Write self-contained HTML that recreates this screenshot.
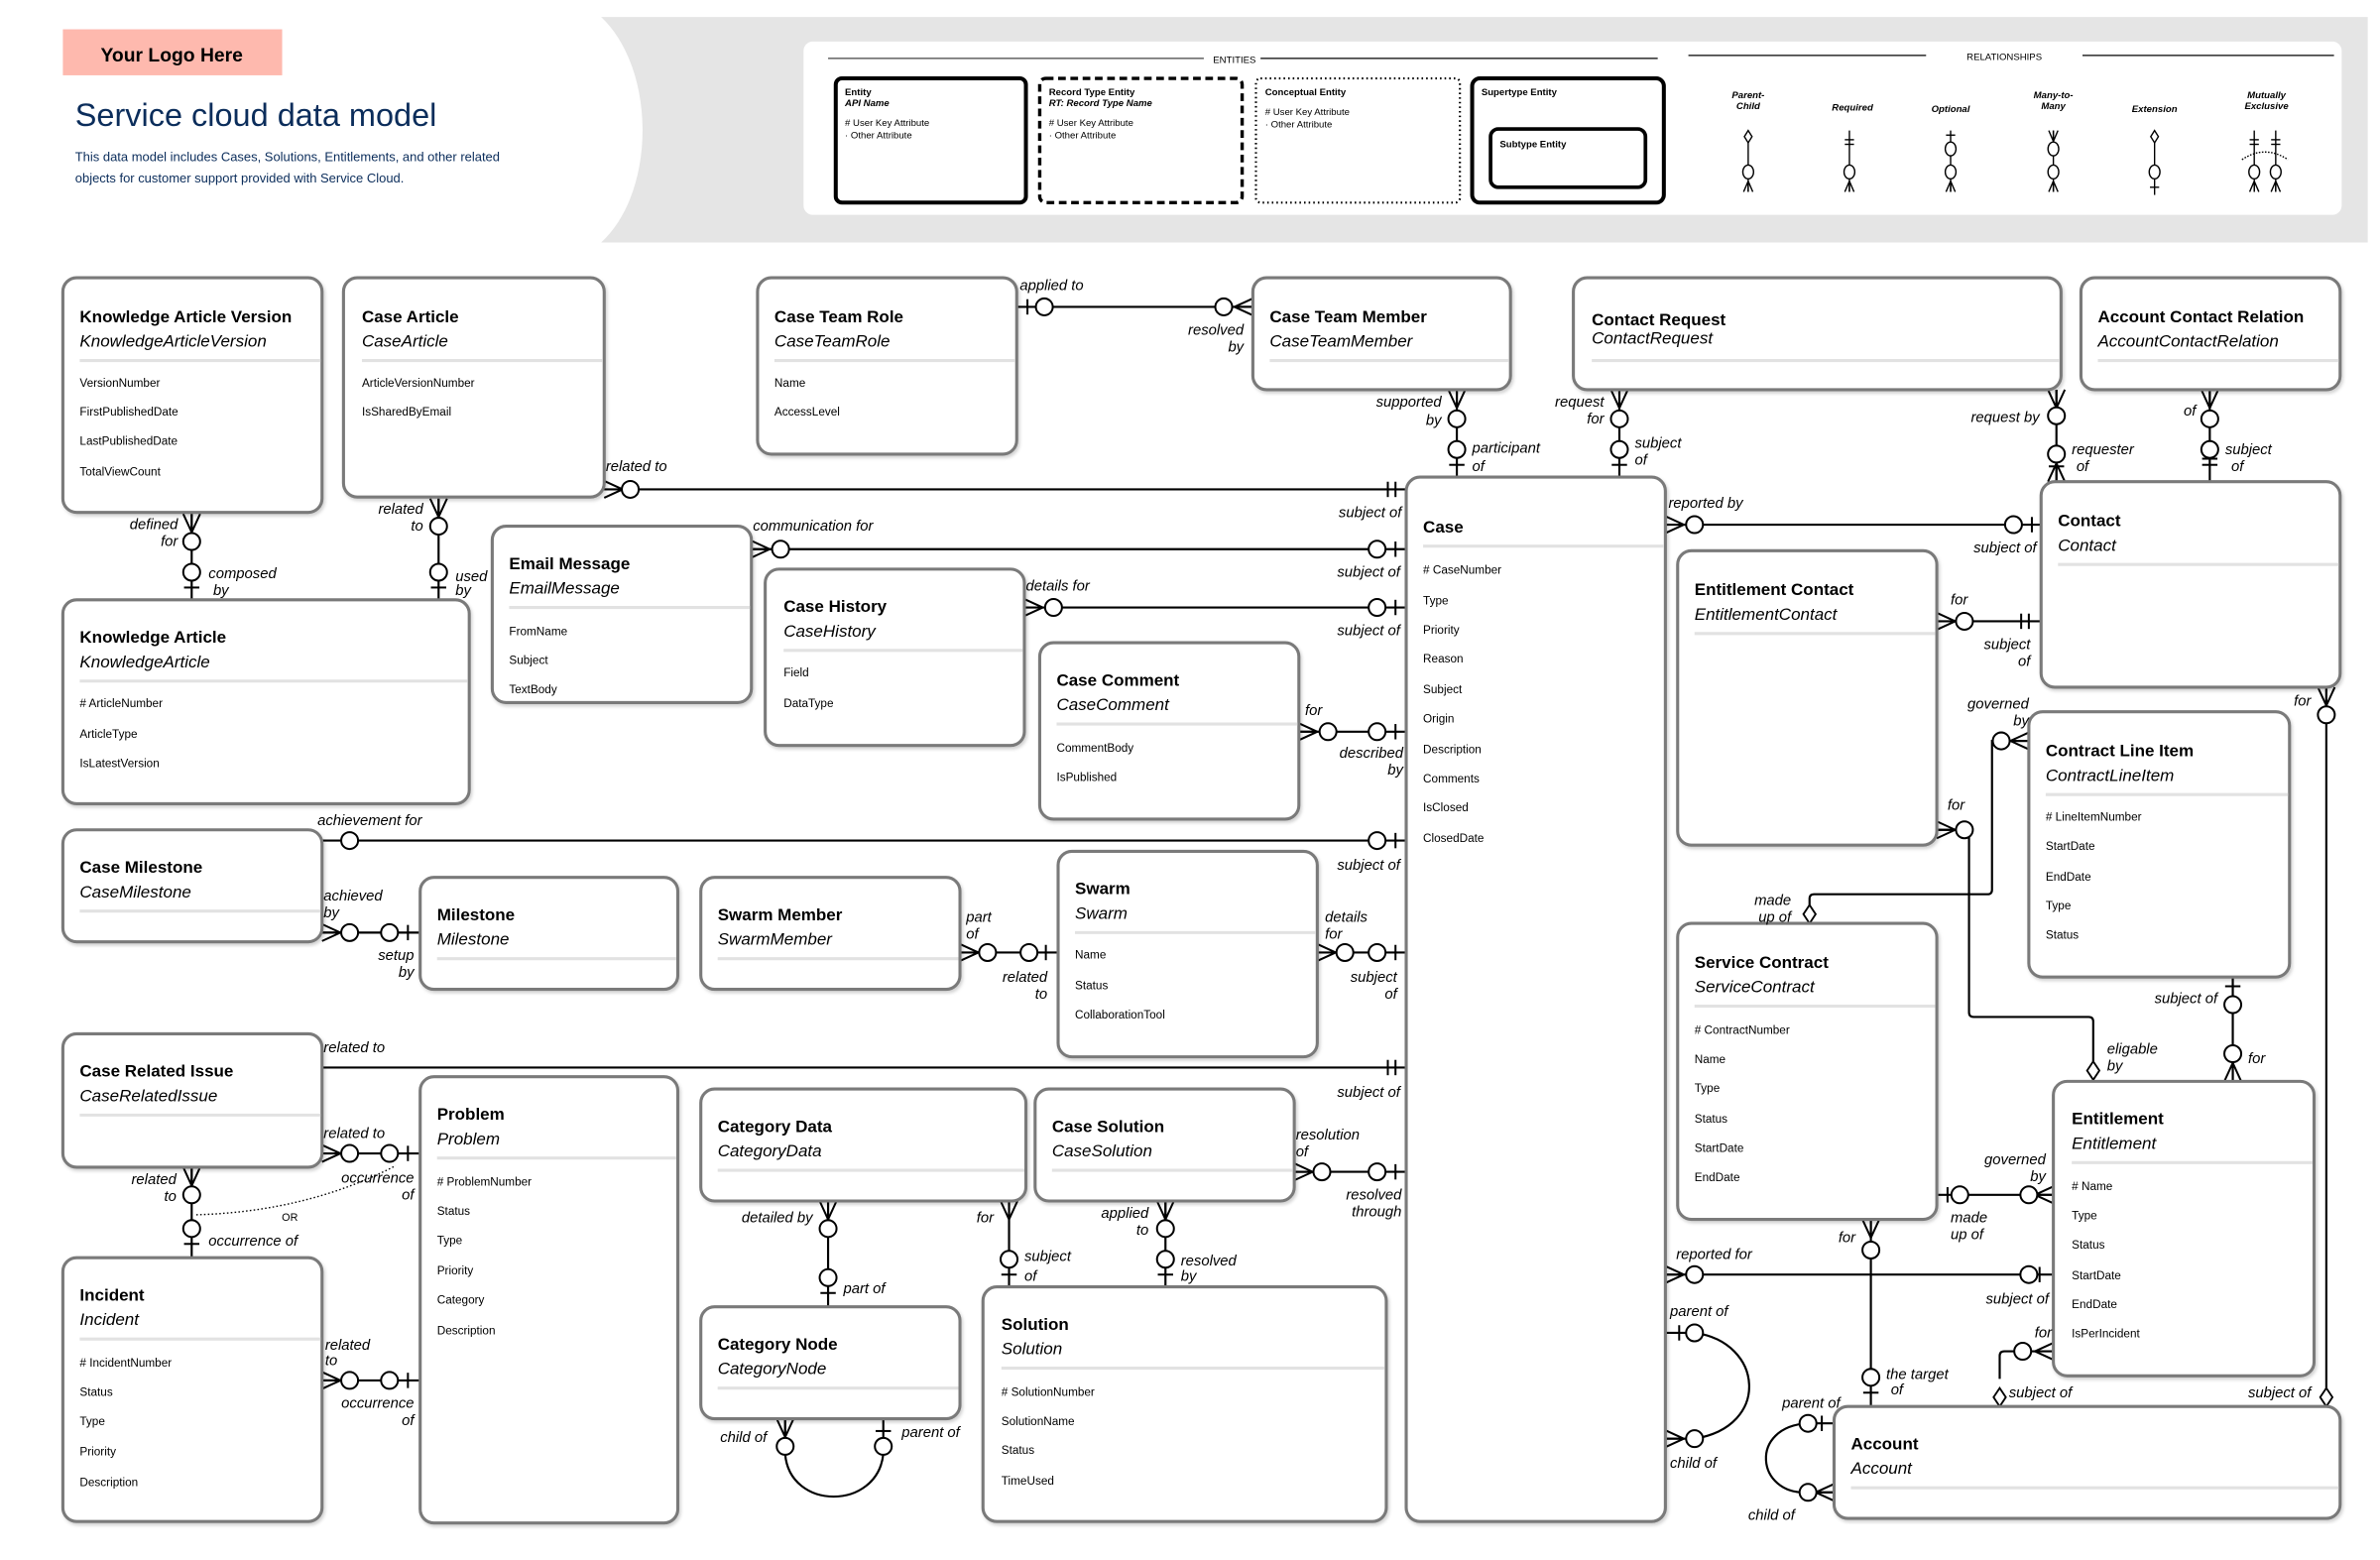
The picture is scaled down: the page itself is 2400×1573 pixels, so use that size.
<!DOCTYPE html>
<html><head><meta charset="utf-8"><style>
html,body{margin:0;padding:0;background:#fff;}
svg{display:block;}
text{font-family:"Liberation Sans",sans-serif;fill:#000;}
.t{font-size:11px;font-weight:bold;}
.a{font-size:11px;font-style:italic;}
.f{font-size:7.6px;}
.l{font-size:9.6px;font-style:italic;}
.e{fill:#fff;stroke:#7a7a7a;stroke-width:2;filter:url(#sh);}
.s{stroke:#e2e2e2;stroke-width:2;}
.c{stroke:#000;stroke-width:1.4;fill:none;}
.o{fill:#fff;stroke:#000;stroke-width:1.3;}
.lg{font-size:6.2px;}
</style></head><body>
<svg width="2400" height="1573" viewBox="0 0 1552 1017" xmlns="http://www.w3.org/2000/svg">
<defs>
<filter id="sh" x="-5%" y="-5%" width="110%" height="110%"><feDropShadow dx="1" dy="1.5" stdDeviation="1" flood-color="#000" flood-opacity="0.18"/></filter>
<path id="cf" d="M12,0 L0,-5.5 M12,0 L0,0 M12,0 L0,5.5" stroke="#000" stroke-width="1.3" fill="none"/>
<path id="dm" d="M0,0 L4,-6 L0,-12 L-4,-6 Z" fill="#fff" stroke="#000" stroke-width="1.2"/>
</defs>

<!-- Header -->
<rect x="41" y="19" width="143" height="30" fill="#feb9ae"/>
<text x="112" y="40" text-anchor="middle" style="font-size:12.5px;font-weight:bold">Your Logo Here</text>
<text x="49" y="82" style="font-size:21px;fill:#0b2d5b">Service cloud data model</text>
<text x="49" y="105" style="font-size:8.4px;fill:#0b2d5b">This data model includes Cases, Solutions, Entitlements, and other related</text>
<text x="49" y="119" style="font-size:8.4px;fill:#0b2d5b">objects for customer support provided with Service Cloud.</text>

<path d="M392,11 C428,45 428,125 392,158 L1544,158 L1544,11 Z" fill="#e5e5e5"/>
<rect x="524" y="27" width="1003" height="113" rx="6" fill="#fff"/>
<line x1="540" y1="38" x2="785" y2="38" stroke="#444" stroke-width="0.8"/>
<line x1="822" y1="38" x2="1081" y2="38" stroke="#000" stroke-width="0.8"/>
<text x="805" y="41" text-anchor="middle" class="lg">ENTITIES</text>
<line x1="1101" y1="36" x2="1256" y2="36" stroke="#000" stroke-width="0.8"/>
<line x1="1358" y1="36" x2="1522" y2="36" stroke="#000" stroke-width="0.8"/>
<text x="1307" y="39" text-anchor="middle" class="lg">RELATIONSHIPS</text>

<rect x="545" y="51" width="124" height="81" rx="4" fill="none" stroke="#000" stroke-width="2.6"/>
<text x="551" y="62" class="lg" style="font-weight:bold">Entity</text>
<text x="551" y="69" class="lg" style="font-weight:bold;font-style:italic">API Name</text>
<text x="551" y="82" class="lg"># User Key Attribute</text>
<text x="551" y="90" class="lg">· Other Attribute</text>
<rect x="678" y="51" width="132" height="81" rx="4" fill="none" stroke="#000" stroke-width="2.2" stroke-dasharray="5,3"/>
<text x="684" y="62" class="lg" style="font-weight:bold">Record Type Entity</text>
<text x="684" y="69" class="lg" style="font-weight:bold;font-style:italic">RT: Record Type Name</text>
<text x="684" y="82" class="lg"># User Key Attribute</text>
<text x="684" y="90" class="lg">· Other Attribute</text>
<rect x="819" y="51" width="133" height="81" rx="3" fill="none" stroke="#000" stroke-width="1.4" stroke-dasharray="1,2"/>
<text x="825" y="62" class="lg" style="font-weight:bold">Conceptual Entity</text>
<text x="825" y="75" class="lg"># User Key Attribute</text>
<text x="825" y="83" class="lg">· Other Attribute</text>
<rect x="960" y="51" width="125" height="81" rx="5" fill="none" stroke="#000" stroke-width="2.6"/>
<text x="966" y="62" class="lg" style="font-weight:bold">Supertype Entity</text>
<rect x="972" y="84" width="101" height="38" rx="5" fill="none" stroke="#000" stroke-width="2.4"/>
<text x="978" y="96" class="lg" style="font-weight:bold">Subtype Entity</text>

<g class="lg" style="font-style:italic;font-weight:bold" text-anchor="middle">
<text x="1140" y="64">Parent-</text><text x="1140" y="71">Child</text>
<text x="1208" y="72">Required</text>
<text x="1272" y="73">Optional</text>
<text x="1339" y="64">Many-to-</text><text x="1339" y="71">Many</text>
<text x="1405" y="73">Extension</text>
<text x="1478" y="64">Mutually</text><text x="1478" y="71">Exclusive</text>
</g>
<g stroke="#000" stroke-width="0.9" fill="#fff">
<line x1="1140" y1="85" x2="1140" y2="125"/><path d="M1140,85 l2.5,4 l-2.5,4 l-2.5,-4z"/><ellipse cx="1140" cy="112" rx="3.5" ry="4.5"/><path d="M1140,118 l-3,7 M1140,118 l0,7 M1140,118 l3,7" fill="none"/>
<line x1="1206" y1="85" x2="1206" y2="125"/><line x1="1203" y1="91" x2="1209" y2="91"/><line x1="1203" y1="94" x2="1209" y2="94"/><ellipse cx="1206" cy="112" rx="3.5" ry="4.5"/><path d="M1206,118 l-3,7 M1206,118 l0,7 M1206,118 l3,7" fill="none"/>
<line x1="1272" y1="85" x2="1272" y2="125"/><line x1="1269" y1="88" x2="1275" y2="88"/><ellipse cx="1272" cy="97" rx="3.5" ry="4.5"/><ellipse cx="1272" cy="112" rx="3.5" ry="4.5"/><path d="M1272,118 l-3,7 M1272,118 l0,7 M1272,118 l3,7" fill="none"/>
<line x1="1339" y1="85" x2="1339" y2="125"/><path d="M1336,85 l3,7 l3,-7 M1339,85 l0,7" fill="none"/><ellipse cx="1339" cy="97" rx="3.5" ry="4.5"/><ellipse cx="1339" cy="112" rx="3.5" ry="4.5"/><path d="M1339,118 l-3,7 M1339,118 l0,7 M1339,118 l3,7" fill="none"/>
<line x1="1405" y1="85" x2="1405" y2="127"/><path d="M1405,85 l2.5,4 l-2.5,4 l-2.5,-4z"/><ellipse cx="1405" cy="112" rx="3.5" ry="4.5"/><line x1="1402" y1="122" x2="1408" y2="122"/>
<line x1="1470" y1="85" x2="1470" y2="125"/><line x1="1484" y1="85" x2="1484" y2="125"/>
<line x1="1467" y1="91" x2="1473" y2="91"/><line x1="1467" y1="94" x2="1473" y2="94"/><line x1="1481" y1="91" x2="1487" y2="91"/><line x1="1481" y1="94" x2="1487" y2="94"/>
<path d="M1462,104 Q1477,94 1492,104" fill="none" stroke-dasharray="1,1"/>
<ellipse cx="1470" cy="112" rx="3.5" ry="4.5"/><ellipse cx="1484" cy="112" rx="3.5" ry="4.5"/>
<path d="M1470,118 l-3,7 M1470,118 l0,7 M1470,118 l3,7 M1484,118 l-3,7 M1484,118 l0,7 M1484,118 l3,7" fill="none"/>
</g>

<!-- CONNECTORS -->
<g class="c">
<line x1="125" y1="335" x2="125" y2="391"/>
<line x1="286" y1="325" x2="286" y2="391"/>
<line x1="394" y1="319" x2="917" y2="319"/>
<line x1="663" y1="200" x2="817" y2="200"/>
<line x1="950" y1="254" x2="950" y2="311"/>
<line x1="1056" y1="254" x2="1056" y2="311"/>
<line x1="490" y1="358" x2="917" y2="358"/>
<line x1="668" y1="396" x2="917" y2="396"/>
<line x1="847" y1="477" x2="917" y2="477"/>
<line x1="210" y1="548" x2="917" y2="548"/>
<line x1="210" y1="608" x2="274" y2="608"/>
<line x1="626" y1="621" x2="690" y2="621"/>
<line x1="859" y1="621" x2="917" y2="621"/>
<line x1="210" y1="696" x2="917" y2="696"/>
<line x1="210" y1="752" x2="274" y2="752"/>
<line x1="125" y1="761" x2="125" y2="820"/>
<line x1="210" y1="900" x2="274" y2="900"/>
<line x1="540" y1="783" x2="540" y2="852"/>
<line x1="658" y1="783" x2="658" y2="839"/>
<line x1="760" y1="783" x2="760" y2="839"/>
<line x1="844" y1="764" x2="917" y2="764"/>
<line x1="1086" y1="342" x2="1331" y2="342"/>
<line x1="1441" y1="254" x2="1441" y2="314"/>
<line x1="1341" y1="254" x2="1341" y2="314"/>
<line x1="1263" y1="405" x2="1331" y2="405"/>
<path d="M1323,483 L1299,483 L1299,580 Q1299,583 1296,583 L1183,583 Q1180,583 1180,586 L1180,590"/>
<path d="M1263,541 L1281,541 Q1284,541 1284,544 L1284,660 Q1284,663 1287,663 L1362,663 Q1365,663 1365,666 L1365,692"/>
<line x1="1456" y1="637" x2="1456" y2="705"/>
<line x1="1517" y1="448" x2="1517" y2="905"/>
<line x1="1263" y1="779" x2="1339" y2="779"/>
<line x1="1220" y1="795" x2="1220" y2="917"/>
<line x1="1086" y1="831" x2="1339" y2="831"/>
<path d="M1105,869 C1150,875 1155,930 1105,938"/>
<line x1="1086" y1="869" x2="1100" y2="869"/>
<line x1="1086" y1="938" x2="1100" y2="938"/>
<path d="M1179,928 C1140,930 1145,975 1179,973"/>
<line x1="1184" y1="928" x2="1196" y2="928"/>
<line x1="1184" y1="973" x2="1196" y2="973"/>
<path d="M1339,881 L1307,881 Q1304,881 1304,884 L1304,899"/>
<path d="M512,948 C515,985 572,985 576,948"/>
<line x1="512" y1="925" x2="512" y2="938"/>
<line x1="576" y1="925" x2="576" y2="938"/>
</g>
<path d="M128,792 Q200,790 258,760" fill="none" stroke="#000" stroke-width="0.9" stroke-dasharray="1,1.5"/>

<!-- crow feet -->
<use href="#cf" transform="translate(125,335) rotate(90)"/>
<use href="#cf" transform="translate(286,325) rotate(90)"/>
<use href="#cf" transform="translate(394,319)"/>
<use href="#cf" transform="translate(817,200) rotate(180)"/>
<use href="#cf" transform="translate(950,254) rotate(90)"/>
<use href="#cf" transform="translate(1056,254) rotate(90)"/>
<use href="#cf" transform="translate(490,358)"/>
<use href="#cf" transform="translate(668,396)"/>
<use href="#cf" transform="translate(847,477)"/>
<use href="#cf" transform="translate(210,608)"/>
<use href="#cf" transform="translate(626,621)"/>
<use href="#cf" transform="translate(859,621)"/>
<use href="#cf" transform="translate(210,752)"/>
<use href="#cf" transform="translate(125,761) rotate(90)"/>
<use href="#cf" transform="translate(210,900)"/>
<use href="#cf" transform="translate(540,783) rotate(90)"/>
<use href="#cf" transform="translate(658,783) rotate(90)"/>
<use href="#cf" transform="translate(760,783) rotate(90)"/>
<use href="#cf" transform="translate(844,764)"/>
<use href="#cf" transform="translate(1086,342)"/>
<use href="#cf" transform="translate(1441,254) rotate(90)"/>
<use href="#cf" transform="translate(1341,254) rotate(90)"/>
<use href="#cf" transform="translate(1341,314) rotate(-90)"/>
<use href="#cf" transform="translate(1263,405)"/>
<use href="#cf" transform="translate(1323,483) rotate(180)"/>
<use href="#cf" transform="translate(1263,541)"/>
<use href="#cf" transform="translate(1456,705) rotate(-90)"/>
<use href="#cf" transform="translate(1517,448) rotate(90)"/>
<use href="#cf" transform="translate(1339,779) rotate(180)"/>
<use href="#cf" transform="translate(1220,795) rotate(90)"/>
<use href="#cf" transform="translate(1086,831)"/>
<use href="#cf" transform="translate(1086,938)"/>
<use href="#cf" transform="translate(1196,973) rotate(180)"/>
<use href="#cf" transform="translate(1339,881) rotate(180)"/>
<use href="#cf" transform="translate(512,925) rotate(90)"/>

<!-- diamonds -->
<use href="#dm" transform="translate(1180,602)"/>
<use href="#dm" transform="translate(1365,704)"/>
<use href="#dm" transform="translate(1517,917)"/>
<use href="#dm" transform="translate(1304,917)"/>

<!-- bars -->
<g stroke="#000" stroke-width="1.3">
<line x1="120" y1="383" x2="130" y2="383"/>
<line x1="281" y1="383" x2="291" y2="383"/>
<line x1="905" y1="314" x2="905" y2="324"/><line x1="910" y1="314" x2="910" y2="324"/>
<line x1="670" y1="195" x2="670" y2="205"/>
<line x1="945" y1="303" x2="955" y2="303"/>
<line x1="1051" y1="303" x2="1061" y2="303"/>
<line x1="910" y1="353" x2="910" y2="363"/>
<line x1="910" y1="391" x2="910" y2="401"/>
<line x1="910" y1="472" x2="910" y2="482"/>
<line x1="910" y1="543" x2="910" y2="553"/>
<line x1="266" y1="603" x2="266" y2="613"/>
<line x1="682" y1="616" x2="682" y2="626"/>
<line x1="910" y1="616" x2="910" y2="626"/>
<line x1="905" y1="691" x2="905" y2="701"/><line x1="910" y1="691" x2="910" y2="701"/>
<line x1="266" y1="747" x2="266" y2="757"/>
<line x1="120" y1="811" x2="130" y2="811"/>
<line x1="266" y1="895" x2="266" y2="905"/>
<line x1="535" y1="843" x2="545" y2="843"/>
<line x1="653" y1="831" x2="663" y2="831"/>
<line x1="755" y1="831" x2="765" y2="831"/>
<line x1="910" y1="759" x2="910" y2="769"/>
<line x1="1325" y1="337" x2="1325" y2="347"/>
<line x1="1436" y1="299" x2="1446" y2="299"/><line x1="1436" y1="303" x2="1446" y2="303"/>
<line x1="1336" y1="304" x2="1346" y2="304"/>
<line x1="1318" y1="400" x2="1318" y2="410"/><line x1="1323" y1="400" x2="1323" y2="410"/>
<line x1="1451" y1="643" x2="1461" y2="643"/>
<line x1="1270" y1="774" x2="1270" y2="784"/>
<line x1="1215" y1="908" x2="1225" y2="908"/>
<line x1="1330" y1="826" x2="1330" y2="836"/>
<line x1="1095" y1="864" x2="1095" y2="874"/>
<line x1="1188" y1="923" x2="1188" y2="933"/>
<line x1="571" y1="933" x2="581" y2="933"/>
</g>

<!-- circles -->
<g class="o">
<circle cx="125" cy="353" r="5.5"/><circle cx="125" cy="373" r="5.5"/>
<circle cx="286" cy="343" r="5.5"/><circle cx="286" cy="373" r="5.5"/>
<circle cx="411" cy="319" r="5.5"/>
<circle cx="681" cy="200" r="5.5"/><circle cx="798" cy="200" r="5.5"/>
<circle cx="950" cy="273" r="5.5"/><circle cx="950" cy="293" r="5.5"/>
<circle cx="1056" cy="273" r="5.5"/><circle cx="1056" cy="293" r="5.5"/>
<circle cx="509" cy="358" r="5.5"/><circle cx="898" cy="358" r="5.5"/>
<circle cx="687" cy="396" r="5.5"/><circle cx="898" cy="396" r="5.5"/>
<circle cx="866" cy="477" r="5.5"/><circle cx="898" cy="477" r="5.5"/>
<circle cx="228" cy="548" r="5.5"/><circle cx="898" cy="548" r="5.5"/>
<circle cx="228" cy="608" r="5.5"/><circle cx="254" cy="608" r="5.5"/>
<circle cx="644" cy="621" r="5.5"/><circle cx="671" cy="621" r="5.5"/>
<circle cx="877" cy="621" r="5.5"/><circle cx="898" cy="621" r="5.5"/>
<circle cx="228" cy="752" r="5.5"/><circle cx="254" cy="752" r="5.5"/>
<circle cx="125" cy="779" r="5.5"/><circle cx="125" cy="801" r="5.5"/>
<circle cx="228" cy="900" r="5.5"/><circle cx="254" cy="900" r="5.5"/>
<circle cx="540" cy="801" r="5.5"/><circle cx="540" cy="833" r="5.5"/>
<circle cx="658" cy="821" r="5.5"/>
<circle cx="760" cy="801" r="5.5"/><circle cx="760" cy="821" r="5.5"/>
<circle cx="862" cy="764" r="5.5"/><circle cx="898" cy="764" r="5.5"/>
<circle cx="1105" cy="342" r="5.5"/><circle cx="1313" cy="342" r="5.5"/>
<circle cx="1441" cy="273" r="5.5"/><circle cx="1441" cy="293" r="5.5"/>
<circle cx="1341" cy="271" r="5.5"/><circle cx="1341" cy="296" r="5.5"/>
<circle cx="1281" cy="405" r="5.5"/>
<circle cx="1305" cy="483" r="5.5"/>
<circle cx="1281" cy="541" r="5.5"/>
<circle cx="1456" cy="655" r="5.5"/><circle cx="1456" cy="687" r="5.5"/>
<circle cx="1517" cy="466" r="5.5"/>
<circle cx="1278" cy="779" r="5.5"/><circle cx="1323" cy="779" r="5.5"/>
<circle cx="1220" cy="815" r="5.5"/><circle cx="1220" cy="898" r="5.5"/>
<circle cx="1105" cy="831" r="5.5"/><circle cx="1323" cy="831" r="5.5"/>
<circle cx="1105" cy="869" r="5.5"/><circle cx="1105" cy="938" r="5.5"/>
<circle cx="1179" cy="928" r="5.5"/><circle cx="1179" cy="973" r="5.5"/>
<circle cx="1319" cy="881" r="5.5"/>
<circle cx="512" cy="943" r="5.5"/><circle cx="576" cy="943" r="5.5"/>
</g>

<!-- ENTITIES -->
<g>
<rect class="e" x="41" y="181" width="169" height="153" rx="9"/>
<text class="t" x="52" y="210">Knowledge Article Version</text><text class="a" x="52" y="226">KnowledgeArticleVersion</text>
<line class="s" x1="52" y1="235" x2="209" y2="235"/>
<text class="f" x="52" y="252">VersionNumber</text><text class="f" x="52" y="271">FirstPublishedDate</text><text class="f" x="52" y="290">LastPublishedDate</text><text class="f" x="52" y="310">TotalViewCount</text>

<rect class="e" x="224" y="181" width="170" height="143" rx="9"/>
<text class="t" x="236" y="210">Case Article</text><text class="a" x="236" y="226">CaseArticle</text>
<line class="s" x1="236" y1="235" x2="393" y2="235"/>
<text class="f" x="236" y="252">ArticleVersionNumber</text><text class="f" x="236" y="271">IsSharedByEmail</text>

<rect class="e" x="494" y="181" width="169" height="115" rx="9"/>
<text class="t" x="505" y="210">Case Team Role</text><text class="a" x="505" y="226">CaseTeamRole</text>
<line class="s" x1="505" y1="235" x2="662" y2="235"/>
<text class="f" x="505" y="252">Name</text><text class="f" x="505" y="271">AccessLevel</text>

<rect class="e" x="817" y="181" width="168" height="73" rx="9"/>
<text class="t" x="828" y="210">Case Team Member</text><text class="a" x="828" y="226">CaseTeamMember</text>
<line class="s" x1="828" y1="235" x2="984" y2="235"/>

<rect class="e" x="1026" y="181" width="318" height="73" rx="9"/>
<text class="t" x="1038" y="212">Contact Request</text><text class="a" x="1038" y="224">ContactRequest</text>
<line class="s" x1="1038" y1="235" x2="1343" y2="235"/>

<rect class="e" x="1357" y="181" width="169" height="73" rx="9"/>
<text class="t" x="1368" y="210">Account Contact Relation</text><text class="a" x="1368" y="226">AccountContactRelation</text>
<line class="s" x1="1368" y1="235" x2="1525" y2="235"/>

<rect class="e" x="41" y="391" width="265" height="133" rx="9"/>
<text class="t" x="52" y="419">Knowledge Article</text><text class="a" x="52" y="435">KnowledgeArticle</text>
<line class="s" x1="52" y1="444" x2="305" y2="444"/>
<text class="f" x="52" y="461"># ArticleNumber</text><text class="f" x="52" y="481">ArticleType</text><text class="f" x="52" y="500">IsLatestVersion</text>

<rect class="e" x="321" y="343" width="169" height="115" rx="9"/>
<text class="t" x="332" y="371">Email Message</text><text class="a" x="332" y="387">EmailMessage</text>
<line class="s" x1="332" y1="396" x2="489" y2="396"/>
<text class="f" x="332" y="414">FromName</text><text class="f" x="332" y="433">Subject</text><text class="f" x="332" y="452">TextBody</text>

<rect class="e" x="499" y="371" width="169" height="115" rx="9"/>
<text class="t" x="511" y="399">Case History</text><text class="a" x="511" y="415">CaseHistory</text>
<line class="s" x1="511" y1="424" x2="667" y2="424"/>
<text class="f" x="511" y="441">Field</text><text class="f" x="511" y="461">DataType</text>

<rect class="e" x="678" y="419" width="169" height="115" rx="9"/>
<text class="t" x="689" y="447">Case Comment</text><text class="a" x="689" y="463">CaseComment</text>
<line class="s" x1="689" y1="472" x2="846" y2="472"/>
<text class="f" x="689" y="490">CommentBody</text><text class="f" x="689" y="509">IsPublished</text>

<rect class="e" x="917" y="311" width="169" height="681" rx="9"/>
<text class="t" x="928" y="347">Case</text>
<line class="s" x1="928" y1="356" x2="1085" y2="356"/>
<text class="f" x="928" y="374"># CaseNumber</text><text class="f" x="928" y="394">Type</text><text class="f" x="928" y="413">Priority</text><text class="f" x="928" y="432">Reason</text><text class="f" x="928" y="452">Subject</text><text class="f" x="928" y="471">Origin</text><text class="f" x="928" y="491">Description</text><text class="f" x="928" y="510">Comments</text><text class="f" x="928" y="529">IsClosed</text><text class="f" x="928" y="549">ClosedDate</text>

<rect class="e" x="1331" y="314" width="195" height="134" rx="9"/>
<text class="t" x="1342" y="343">Contact</text><text class="a" x="1342" y="359">Contact</text>
<line class="s" x1="1342" y1="368" x2="1525" y2="368"/>

<rect class="e" x="1094" y="359" width="169" height="192" rx="9"/>
<text class="t" x="1105" y="388">Entitlement Contact</text><text class="a" x="1105" y="404">EntitlementContact</text>
<line class="s" x1="1105" y1="413" x2="1262" y2="413"/>

<rect class="e" x="1323" y="464" width="170" height="173" rx="9"/>
<text class="t" x="1334" y="493">Contract Line Item</text><text class="a" x="1334" y="509">ContractLineItem</text>
<line class="s" x1="1334" y1="518" x2="1492" y2="518"/>
<text class="f" x="1334" y="535"># LineItemNumber</text><text class="f" x="1334" y="554">StartDate</text><text class="f" x="1334" y="574">EndDate</text><text class="f" x="1334" y="593">Type</text><text class="f" x="1334" y="612">Status</text>

<rect class="e" x="41" y="541" width="169" height="73" rx="9"/>
<text class="t" x="52" y="569">Case Milestone</text><text class="a" x="52" y="585">CaseMilestone</text>
<line class="s" x1="52" y1="594" x2="209" y2="594"/>

<rect class="e" x="274" y="572" width="168" height="73" rx="9"/>
<text class="t" x="285" y="600">Milestone</text><text class="a" x="285" y="616">Milestone</text>
<line class="s" x1="285" y1="625" x2="441" y2="625"/>

<rect class="e" x="457" y="572" width="169" height="73" rx="9"/>
<text class="t" x="468" y="600">Swarm Member</text><text class="a" x="468" y="616">SwarmMember</text>
<line class="s" x1="468" y1="625" x2="625" y2="625"/>

<rect class="e" x="690" y="555" width="169" height="134" rx="9"/>
<text class="t" x="701" y="583">Swarm</text><text class="a" x="701" y="599">Swarm</text>
<line class="s" x1="701" y1="608" x2="858" y2="608"/>
<text class="f" x="701" y="625">Name</text><text class="f" x="701" y="645">Status</text><text class="f" x="701" y="664">CollaborationTool</text>

<rect class="e" x="1094" y="602" width="169" height="193" rx="9"/>
<text class="t" x="1105" y="631">Service Contract</text><text class="a" x="1105" y="647">ServiceContract</text>
<line class="s" x1="1105" y1="656" x2="1262" y2="656"/>
<text class="f" x="1105" y="674"># ContractNumber</text><text class="f" x="1105" y="693">Name</text><text class="f" x="1105" y="712">Type</text><text class="f" x="1105" y="732">Status</text><text class="f" x="1105" y="751">StartDate</text><text class="f" x="1105" y="770">EndDate</text>

<rect class="e" x="41" y="674" width="169" height="87" rx="9"/>
<text class="t" x="52" y="702">Case Related Issue</text><text class="a" x="52" y="718">CaseRelatedIssue</text>
<line class="s" x1="52" y1="727" x2="209" y2="727"/>

<rect class="e" x="274" y="702" width="168" height="291" rx="9"/>
<text class="t" x="285" y="730">Problem</text><text class="a" x="285" y="746">Problem</text>
<line class="s" x1="285" y1="755" x2="441" y2="755"/>
<text class="f" x="285" y="773"># ProblemNumber</text><text class="f" x="285" y="792">Status</text><text class="f" x="285" y="811">Type</text><text class="f" x="285" y="831">Priority</text><text class="f" x="285" y="850">Category</text><text class="f" x="285" y="870">Description</text>

<rect class="e" x="457" y="710" width="212" height="73" rx="9"/>
<text class="t" x="468" y="738">Category Data</text><text class="a" x="468" y="754">CategoryData</text>
<line class="s" x1="468" y1="763" x2="668" y2="763"/>

<rect class="e" x="675" y="710" width="169" height="73" rx="9"/>
<text class="t" x="686" y="738">Case Solution</text><text class="a" x="686" y="754">CaseSolution</text>
<line class="s" x1="686" y1="763" x2="843" y2="763"/>

<rect class="e" x="1339" y="705" width="170" height="192" rx="9"/>
<text class="t" x="1351" y="733">Entitlement</text><text class="a" x="1351" y="749">Entitlement</text>
<line class="s" x1="1351" y1="758" x2="1508" y2="758"/>
<text class="f" x="1351" y="776"># Name</text><text class="f" x="1351" y="795">Type</text><text class="f" x="1351" y="814">Status</text><text class="f" x="1351" y="834">StartDate</text><text class="f" x="1351" y="853">EndDate</text><text class="f" x="1351" y="872">IsPerIncident</text>

<rect class="e" x="41" y="820" width="169" height="172" rx="9"/>
<text class="t" x="52" y="848">Incident</text><text class="a" x="52" y="864">Incident</text>
<line class="s" x1="52" y1="873" x2="209" y2="873"/>
<text class="f" x="52" y="891"># IncidentNumber</text><text class="f" x="52" y="910">Status</text><text class="f" x="52" y="929">Type</text><text class="f" x="52" y="949">Priority</text><text class="f" x="52" y="969">Description</text>

<rect class="e" x="457" y="852" width="169" height="73" rx="9"/>
<text class="t" x="468" y="880">Category Node</text><text class="a" x="468" y="896">CategoryNode</text>
<line class="s" x1="468" y1="905" x2="625" y2="905"/>

<rect class="e" x="641" y="839" width="263" height="153" rx="9"/>
<text class="t" x="653" y="867">Solution</text><text class="a" x="653" y="883">Solution</text>
<line class="s" x1="653" y1="892" x2="903" y2="892"/>
<text class="f" x="653" y="910"># SolutionNumber</text><text class="f" x="653" y="929">SolutionName</text><text class="f" x="653" y="948">Status</text><text class="f" x="653" y="968">TimeUsed</text>

<rect class="e" x="1196" y="917" width="330" height="73" rx="9"/>
<text class="t" x="1207" y="945">Account</text><text class="a" x="1207" y="961">Account</text>
<line class="s" x1="1207" y1="970" x2="1525" y2="970"/>
</g>

<!-- LABELS -->
<g class="l">
<text x="116" y="345" text-anchor="end">defined</text><text x="116" y="356" text-anchor="end">for</text>
<text x="136" y="377">composed</text><text x="139" y="388">by</text>
<text x="276" y="335" text-anchor="end">related</text><text x="276" y="346" text-anchor="end">to</text>
<text x="297" y="379">used</text><text x="297" y="388">by</text>
<text x="395" y="307">related to</text>
<text x="914" y="337" text-anchor="end">subject of</text>
<text x="665" y="189">applied to</text>
<text x="811" y="218" text-anchor="end">resolved</text><text x="811" y="229" text-anchor="end">by</text>
<text x="940" y="265" text-anchor="end">supported</text><text x="940" y="277" text-anchor="end">by</text>
<text x="960" y="295">participant</text><text x="960" y="307">of</text>
<text x="1046" y="265" text-anchor="end">request</text><text x="1046" y="276" text-anchor="end">for</text>
<text x="1066" y="292">subject</text><text x="1066" y="303">of</text>
<text x="491" y="346">communication for</text>
<text x="913" y="376" text-anchor="end">subject of</text>
<text x="669" y="385">details for</text>
<text x="913" y="414" text-anchor="end">subject of</text>
<text x="851" y="466">for</text>
<text x="915" y="494" text-anchor="end">described</text><text x="915" y="505" text-anchor="end">by</text>
<text x="207" y="538">achievement for</text>
<text x="913" y="567" text-anchor="end">subject of</text>
<text x="211" y="587">achieved</text><text x="211" y="598">by</text>
<text x="270" y="626" text-anchor="end">setup</text><text x="270" y="637" text-anchor="end">by</text>
<text x="630" y="601">part</text><text x="630" y="612">of</text>
<text x="683" y="640" text-anchor="end">related</text><text x="683" y="651" text-anchor="end">to</text>
<text x="864" y="601">details</text><text x="864" y="612">for</text>
<text x="911" y="640" text-anchor="end">subject</text><text x="911" y="651" text-anchor="end">of</text>
<text x="211" y="686">related to</text>
<text x="913" y="715" text-anchor="end">subject of</text>
<text x="211" y="742">related to</text>
<text x="270" y="771" text-anchor="end">occurrence</text><text x="270" y="782" text-anchor="end">of</text>
<text x="115" y="772" text-anchor="end">related</text><text x="115" y="783" text-anchor="end">to</text>
<text x="136" y="812">occurrence of</text>
<text x="212" y="880">related</text><text x="212" y="890">to</text>
<text x="270" y="918" text-anchor="end">occurrence</text><text x="270" y="929" text-anchor="end">of</text>
<text x="530" y="797" text-anchor="end">detailed by</text>
<text x="550" y="843">part of</text>
<text x="500" y="940" text-anchor="end">child of</text>
<text x="588" y="937">parent of</text>
<text x="648" y="797" text-anchor="end">for</text>
<text x="668" y="822">subject</text><text x="668" y="835">of</text>
<text x="749" y="794" text-anchor="end">applied</text><text x="749" y="805" text-anchor="end">to</text>
<text x="770" y="825">resolved</text><text x="770" y="835">by</text>
<text x="845" y="743">resolution</text><text x="845" y="754">of</text>
<text x="914" y="782" text-anchor="end">resolved</text><text x="914" y="793" text-anchor="end">through</text>
<text x="1088" y="331">reported by</text>
<text x="1328" y="360" text-anchor="end">subject of</text>
<text x="1432" y="271" text-anchor="end">of</text>
<text x="1451" y="296">subject</text><text x="1455" y="307">of</text>
<text x="1330" y="275" text-anchor="end">request by</text>
<text x="1351" y="296">requester</text><text x="1354" y="307">of</text>
<text x="1272" y="394">for</text>
<text x="1324" y="423" text-anchor="end">subject</text><text x="1324" y="434" text-anchor="end">of</text>
<text x="1323" y="462" text-anchor="end">governed</text><text x="1323" y="473" text-anchor="end">by</text>
<text x="1270" y="528">for</text>
<text x="1168" y="590" text-anchor="end">made</text><text x="1168" y="601" text-anchor="end">up of</text>
<text x="1374" y="687">eligable</text><text x="1374" y="698">by</text>
<text x="1446" y="654" text-anchor="end">subject of</text>
<text x="1466" y="693">for</text>
<text x="1507" y="460" text-anchor="end">for</text>
<text x="1507" y="911" text-anchor="end">subject of</text>
<text x="1334" y="759" text-anchor="end">governed</text><text x="1334" y="770" text-anchor="end">by</text>
<text x="1272" y="797">made</text><text x="1272" y="808">up of</text>
<text x="1210" y="810" text-anchor="end">for</text>
<text x="1230" y="899">the target</text><text x="1233" y="909">of</text>
<text x="1093" y="821">reported for</text>
<text x="1336" y="850" text-anchor="end">subject of</text>
<text x="1089" y="858">parent of</text>
<text x="1089" y="957">child of</text>
<text x="1200" y="918" text-anchor="end">parent of</text>
<text x="1140" y="991">child of</text>
<text x="1338" y="872" text-anchor="end">for</text>
<text x="1310" y="911">subject of</text>
</g>
<text x="189" y="796" text-anchor="middle" style="font-size:7px">OR</text>
</svg>
</body></html>
